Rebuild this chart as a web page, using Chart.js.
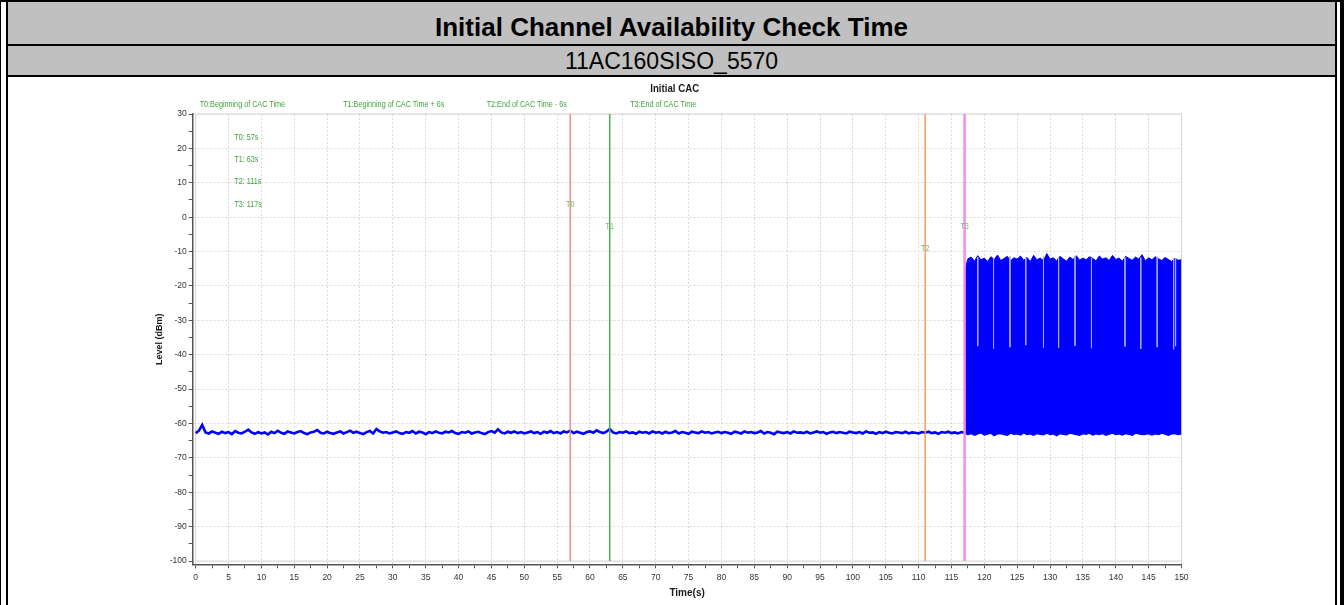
<!DOCTYPE html>
<html>
<head>
<meta charset="utf-8">
<script src="https://cdn.jsdelivr.net/npm/chart.js@4.4.1/dist/chart.umd.min.js"></script>
<style>
  html, body { margin: 0; padding: 0; background: #fff; }
  body { width: 1344px; height: 605px; position: relative; overflow: hidden; font-family: "Liberation Sans", Arial, sans-serif; }
  .blk { position: absolute; background: #000; }
  .grey { position: absolute; background: #c0c0c0; left: 8px; width: 1327px; }
  .head { position: absolute; left: 8px; width: 1327px; text-align: center; color: #000; white-space: nowrap; }
  #wrap { position: absolute; left: 8px; top: 77px; width: 1327px; height: 528px; }
</style>
</head>
<body>
<!-- page frame -->
<div class="blk" style="left:0;top:0;width:1px;height:605px"></div>
<div class="blk" style="left:6px;top:0;width:2px;height:605px"></div>
<div class="blk" style="left:1335px;top:0;width:2px;height:605px"></div>
<div class="blk" style="left:1340px;top:0;width:4px;height:605px"></div>
<div class="blk" style="left:0;top:0;width:1344px;height:2px"></div>
<div class="grey" style="top:2px;height:42px"></div>
<div class="blk" style="left:6px;top:44px;width:1331px;height:2px"></div>
<div class="grey" style="top:46px;height:29px"></div>
<div class="blk" style="left:6px;top:75px;width:1331px;height:2px"></div>
<div class="head" id="mainTitle" style="top:14px;font-size:26px;line-height:26px;font-weight:bold"></div>
<div class="head" id="subTitle" style="top:50px;font-size:23px;line-height:23px"></div>

<div id="wrap"><canvas id="cacChart"></canvas></div>

<script>
// texts
const pageTitle = 'Initial Channel Availability Check Time';
const pageSubtitle = '11AC160SISO_5570';
const chartTitle = 'Initial CAC';
const xTitle = 'Time(s)';
const yTitle = 'Level (dBm)';

// markers
const markerNames = ['T0', 'T1', 'T2', 'T3'];
const markerTimes = [57, 63, 111, 117];
const markerLegend = ['T0:Beginning of CAC Time', 'T1:Beginning of CAC Time + 6s', 'T2:End of CAC Time - 6s', 'T3:End of CAC Time'];
const markerNotes = ['T0: 57s', 'T1: 63s', 'T2: 111s', 'T3: 117s'];
const markerColors = ['#f08a8a', '#4fae4f', '#ff9a5c', '#f28cf2'];

// ticks
const xTickValues = [0, 2.5, 5, 7.5, 10, 12.5, 15, 17.5, 20, 22.5, 25, 27.5, 30, 32.5, 35, 37.5, 40, 42.5, 45, 47.5,
  50, 52.5, 55, 57.5, 60, 62.5, 65, 67.5, 70, 72.5, 75, 77.5, 80, 82.5, 85, 87.5, 90, 92.5, 95, 97.5,
  100, 102.5, 105, 107.5, 110, 112.5, 115, 117.5, 120, 122.5, 125, 127.5, 130, 132.5, 135, 137.5, 140, 142.5, 145, 147.5, 150];
const yTickValues = [-100, -95, -90, -85, -80, -75, -70, -65, -60, -55, -50, -45, -40, -35, -30, -25, -20, -15, -10, -5, 0, 5, 10, 15, 20, 25, 30];

// level trace, one reading every 0.5 s
const sampleStep = 0.5;
const idleStart = 0;
const idleLevel = [
  -62.8, -62.1, -60.4, -62.6, -62.9, -62.3, -62.7, -63.0, -62.4, -62.8,
  -62.5, -63.1, -62.2, -62.7, -62.9, -62.4, -61.8, -62.6, -63.0, -62.5,
  -62.9, -62.6, -63.2, -62.4, -62.8, -62.1, -62.7, -63.0, -62.3, -62.6,
  -62.9, -62.5, -62.2, -62.8, -63.1, -62.6, -62.4, -61.9, -62.7, -62.9,
  -62.4, -62.8, -63.0, -62.6, -62.3, -62.9, -62.5, -62.1, -62.7, -62.4,
  -62.8, -63.1, -62.5, -62.2, -62.9, -61.6, -62.3, -62.7, -62.5, -62.9,
  -62.6, -62.3, -62.8, -63.0, -62.5, -62.7, -62.2, -62.9, -62.4, -62.6,
  -63.1, -62.5, -62.8, -62.3, -62.7, -62.9, -62.4, -62.6, -62.2, -62.8,
  -63.0, -62.5, -62.7, -62.3, -62.9, -62.6, -62.4, -62.8, -63.1, -62.5,
  -62.2, -62.7, -61.7, -62.6, -62.9, -62.4, -62.7, -62.3, -62.8, -62.5,
  -62.9, -62.6, -62.3, -62.8, -62.5, -63.0, -62.4, -62.7, -62.2, -62.8,
  -62.5, -62.9, -62.3, -62.6, -62.1, -62.8, -62.4, -62.7, -63.0, -62.5,
  -62.3, -62.7, -62.0, -62.5, -62.8, -62.4, -61.6, -62.6, -62.9, -62.5,
  -62.7, -62.3, -62.8, -62.6, -63.0, -62.4, -62.7, -62.5, -62.9, -62.3,
  -62.7, -62.5, -62.9, -62.4, -62.8, -62.6, -62.2, -62.9, -62.5, -62.7,
  -63.0, -62.4, -62.6, -62.8, -62.3, -62.7, -62.5, -62.9, -62.6, -62.4,
  -62.8, -62.5, -62.7, -63.0, -62.4, -62.6, -62.9, -62.3, -62.7, -62.5,
  -62.8, -62.6, -62.2, -62.9, -62.5, -62.7, -63.1, -62.4, -62.6, -62.8,
  -62.5, -62.9, -62.3, -62.7, -62.6, -62.8, -62.4, -62.9, -62.6, -62.3,
  -62.7, -62.5, -63.0, -62.6, -62.4, -62.8, -62.5, -62.7, -62.9, -62.4,
  -62.6, -62.8, -62.5, -62.9, -62.3, -62.7, -62.6, -63.0, -62.5, -62.8,
  -62.4, -62.7, -62.9, -62.5, -62.6, -62.8, -62.4, -62.9, -62.6, -62.7,
  -62.9, -62.5, -62.7, -62.4, -62.8, -62.6, -63.0, -62.5, -62.7, -62.4,
  -62.8, -62.6, -62.9, -62.5, -62.7
];

// after T3 the level swings fast between these two envelopes
const burstStart = 117;
const burstTop = [
  -15.6,
  -12.1, -11.6, -12.8, -11.2, -12.4, -11.9, -12.9, -11.5, -12.3, -11.0,
  -12.6, -12.0, -11.4, -12.7, -11.8, -12.2, -11.3, -12.5, -11.7, -12.9,
  -11.1, -12.4, -11.9, -12.6, -10.6, -12.2, -11.8, -12.7, -11.4, -12.1,
  -12.8, -11.6, -12.3, -11.2, -12.5, -11.9, -12.4, -11.5, -12.0, -12.7,
  -11.3, -12.2, -11.8, -12.6, -11.1, -12.3, -11.9, -12.8, -11.4, -12.0,
  -12.5, -11.6, -12.2, -10.9, -12.7, -11.8, -12.4, -11.5, -12.1, -12.6,
  -11.7, -12.3, -12.9, -12.0, -12.5, -12.4
];
const burstBottom = [
  -62.8, -63.2, -62.9, -63.4, -63.0, -62.7, -63.3, -63.1, -62.8, -63.5,
  -63.0, -62.9, -63.2, -63.4, -62.8, -63.1, -63.0, -63.3, -62.7, -63.2,
  -63.0, -63.4, -62.9, -63.1, -63.3, -62.8, -63.2, -63.0, -63.5, -62.9,
  -63.1, -63.3, -62.8, -63.0, -63.2, -63.4, -62.9, -63.1, -62.8, -63.3,
  -63.0, -63.2, -62.9, -63.4, -63.1, -62.8, -63.2, -63.0, -63.3, -62.9,
  -63.1, -63.4, -62.8, -63.0, -63.2, -63.1, -62.9, -63.3, -63.0, -63.2,
  -62.8, -63.1, -63.4, -63.0, -62.9, -63.2, -63.0
];
// short pauses inside the burst (level stays above these values)
const pauseTimes = [119.0, 121.4, 123.9, 126.3, 129.0, 131.3, 133.8, 136.3, 141.4, 143.8, 146.3, 148.8, 149.1];
const pauseTop = [-11.6, -11.9, -11.4, -11.8, -11.5, -11.7, -11.3, -11.9, -11.6, -11.8, -11.5, -11.9, -12.0];
const pauseBottom = [-37.5, -38.2, -37.8, -37.2, -37.9, -38.0, -37.4, -38.1, -37.6, -38.3, -37.8, -38.4, -37.5];

const FONT = '"Liberation Sans", Arial, sans-serif';

document.getElementById('mainTitle').textContent = pageTitle;
document.getElementById('subTitle').textContent = pageSubtitle;

const idlePoints = idleLevel.map((v, i) => ({ x: idleStart + i * sampleStep, y: v }));
const topPoints = burstTop.map((v, i) => ({ x: burstStart + i * sampleStep, y: v }));
const bottomPoints = burstBottom.map((v, i) => ({ x: burstStart + i * sampleStep, y: v }));
const pausePoints = [];
pauseTimes.forEach((t, i) => {
  pausePoints.push({ x: t, y: pauseTop[i] }, { x: t, y: pauseBottom[i] }, { x: t, y: null });
});

// lower order = drawn later (on top)
const markerSets = markerTimes.map((t, i) => ({
  data: [{ x: t, y: 30 }, { x: t, y: -100 }],
  borderColor: markerColors[i],
  borderWidth: i === 3 ? 2.5 : 1.5,
  order: -2
}));

// narrow text: the source chart uses a condensed face
function narrowText(ctx, text, x, y, sx) {
  ctx.save();
  ctx.translate(x, y);
  ctx.scale(sx, 1);
  ctx.fillText(text, 0, 0);
  ctx.restore();
}

const frameAndNotes = {
  id: 'frameAndNotes',
  beforeDatasetsDraw(chart) {
    const { ctx, scales: { x, y } } = chart;
    ctx.save();
    ctx.strokeStyle = '#d6d6d6';
    ctx.lineWidth = 1;
    ctx.strokeRect(x.getPixelForValue(0), y.getPixelForValue(30), x.getPixelForValue(150) - x.getPixelForValue(0), y.getPixelForValue(-100) - y.getPixelForValue(30));
    ctx.restore();
  },
  afterDraw(chart) {
    const { ctx, chartArea: a, scales: { x, y } } = chart;
    ctx.save();
    ctx.textBaseline = 'middle';
    ctx.textAlign = 'center';
    ctx.fillStyle = '#1a1a1a';
    ctx.font = 'bold 11px ' + FONT;
    narrowText(ctx, chartTitle, a.left + 482, a.top - 25, 0.88);

    ctx.textAlign = 'left';
    ctx.font = '9px ' + FONT;
    ctx.fillStyle = '#3fa33f';
    markerLegend.forEach((t, i) => narrowText(ctx, t, a.left + 7 + i * 143.5, a.top - 9, 0.8));

    const noteY = [23.3, 16.9, 10.5, 3.8];
    markerNotes.forEach((t, i) => narrowText(ctx, t, x.getPixelForValue(5.9), y.getPixelForValue(noteY[i]), 0.8));

    ctx.textAlign = 'center';
    ctx.fillStyle = '#72bf72';
    const tagY = [3.8, -2.6, -9.0, -2.6];
    markerNames.forEach((t, i) => narrowText(ctx, t, x.getPixelForValue(markerTimes[i]), y.getPixelForValue(tagY[i]), 0.8));
    ctx.restore();
  }
};

const tickFont = { family: FONT, size: 8.5 };

new Chart(document.getElementById('cacChart'), {
  type: 'line',
  data: {
    datasets: [
      { data: idlePoints, borderColor: '#0000ff', borderWidth: 2.6 },
      { data: topPoints, borderColor: '#0000ff', borderWidth: 1, backgroundColor: '#0000ff', fill: '+1' },
      { data: bottomPoints, borderColor: '#0000ff', borderWidth: 1.5 },
      { data: pausePoints, borderColor: '#a9a9ff', borderWidth: 1, order: -1 },
      ...markerSets
    ]
  },
  options: {
    responsive: true,
    maintainAspectRatio: false,
    animation: false,
    events: [],
    elements: { point: { radius: 0 }, line: { tension: 0, fill: false } },
    layout: { padding: { left: 140, right: 153.5, top: 37, bottom: 0 } },
    plugins: { legend: { display: false }, tooltip: { enabled: false } },
    scales: {
      x: {
        type: 'linear',
        min: -0.45,
        max: 150,
        afterBuildTicks: axis => { axis.ticks = xTickValues.map(v => ({ value: v })); },
        afterFit: axis => { axis.height = 40.7; },
        ticks: { autoSkip: false, maxRotation: 0, font: tickFont, color: '#333', padding: 4,
          callback: v => (v % 5 === 0 ? String(v) : '') },
        grid: { color: c => (c.tick && c.tick.value % 5 === 0 ? '#d9d9d9' : 'rgba(0,0,0,0)'), tickColor: '#555', tickLength: 4 },
        border: { color: '#555', width: 1.5, dash: [2, 2] },
        title: { display: true, text: xTitle, color: '#1a1a1a', font: { family: FONT, size: 10, weight: 'bold' }, padding: { top: 0, bottom: 6 } }
      },
      y: {
        min: -100.95,
        max: 30,
        afterBuildTicks: axis => { axis.ticks = yTickValues.map(v => ({ value: v })); },
        afterFit: axis => { axis.width = 44.7; },
        ticks: { autoSkip: false, font: tickFont, color: '#333', padding: 2,
          callback: v => (v % 10 === 0 ? String(v) : '') },
        grid: { color: c => (c.tick && c.tick.value % 10 === 0 ? '#d9d9d9' : 'rgba(0,0,0,0)'), tickColor: '#555', tickLength: 4 },
        border: { color: '#555', width: 1.5, dash: [2, 2] },
        title: { display: true, text: yTitle, color: '#1a1a1a', font: { family: FONT, size: 9, weight: 'bold' }, padding: { top: 6, bottom: 0 } }
      }
    }
  },
  plugins: [frameAndNotes]
});
</script>
</body>
</html>
